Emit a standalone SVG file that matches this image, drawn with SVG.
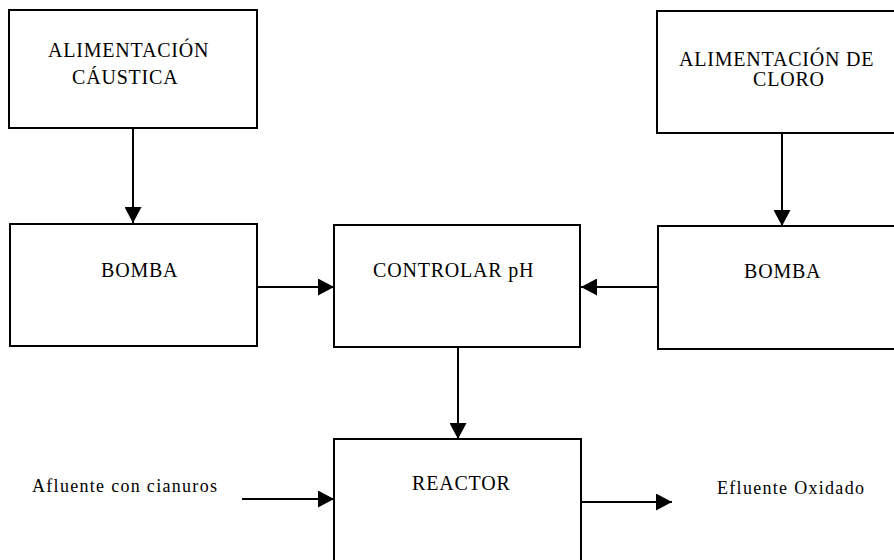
<svg xmlns="http://www.w3.org/2000/svg" width="894" height="560" viewBox="0 0 894 560">
<style>
.box{fill:#fff;stroke:#000;stroke-width:2}
.lbl{font-family:"Liberation Serif","Times New Roman",serif;font-size:20px;letter-spacing:0.8px;fill:#000}
.sm{font-family:"Liberation Serif","Times New Roman",serif;font-size:18px;letter-spacing:1.3px;fill:#000}
.con{stroke:#000;stroke-width:2;fill:none;marker-end:url(#ah)}
</style>
<defs>
<marker id="ah" markerUnits="userSpaceOnUse" markerWidth="17" markerHeight="17" refX="16" refY="8.5" orient="auto">
<path d="M0,0 L16,8.5 L0,17 Z" fill="#000"/>
</marker>
</defs>
<rect width="894" height="560" fill="#fff"/>
<g id="conectores">
<line class="con" x1="133" y1="128" x2="133" y2="223"/>
<line class="con" x1="257" y1="287" x2="334" y2="287"/>
<line class="con" x1="658" y1="287" x2="581" y2="287"/>
<line class="con" x1="782" y1="133" x2="782" y2="226"/>
<line class="con" x1="458" y1="347" x2="458" y2="439"/>
<line class="con" x1="242" y1="499" x2="334" y2="499"/>
<line class="con" x1="581" y1="502" x2="672" y2="502"/>
</g>
<g id="alim-caustica">
<rect class="box" x="9" y="10" width="248" height="118"/>
<text class="lbl" x="48" y="57">ALIMENTACIÓN</text>
<text class="lbl" x="72" y="84">CÁUSTICA</text>
</g>
<g id="alim-cloro">
<rect class="box" x="657" y="11" width="250" height="122"/>
<text class="lbl" x="679" y="66">ALIMENTACIÓN DE</text>
<text class="lbl" x="753" y="86">CLORO</text>
</g>
<g id="bomba-izq">
<rect class="box" x="10" y="224" width="247" height="122"/>
<text class="lbl" x="101" y="277">BOMBA</text>
</g>
<g id="controlar-ph">
<rect class="box" x="334" y="225" width="246" height="122"/>
<text class="lbl" x="373" y="277">CONTROLAR pH</text>
</g>
<g id="bomba-der">
<rect class="box" x="658" y="226" width="250" height="123"/>
<text class="lbl" x="744" y="278">BOMBA</text>
</g>
<g id="reactor">
<rect class="box" x="334" y="439" width="247" height="140"/>
<text class="lbl" x="412" y="490">REACTOR</text>
</g>
<g id="afluente">
<text class="sm" x="32" y="492">Afluente con cianuros</text>
</g>
<g id="efluente">
<text class="sm" x="717" y="494">Efluente Oxidado</text>
</g>
</svg>
